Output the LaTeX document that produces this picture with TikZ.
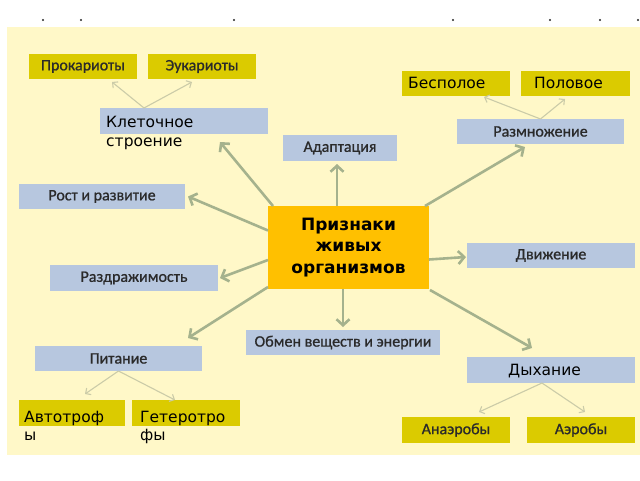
\documentclass[tikz,border=0pt]{standalone}
\usepackage{fontspec}
\setmainfont{Carlito}
\newfontfamily\lbl[FakeBold=0.9]{Carlito}
\newfontfamily\dv{DejaVu Sans}
\usetikzlibrary{arrows.meta,calc}
\definecolor{bgy}{HTML}{FFF8C8}
\definecolor{bluebx}{HTML}{B7C7DF}
\definecolor{yelbx}{HTML}{DBCB00}
\definecolor{orabx}{HTML}{FFC000}
\definecolor{txt}{HTML}{2A2A2A}
\definecolor{bigarr}{HTML}{A5B28D}
\definecolor{thinarr}{HTML}{CBCBA8}
\begin{document}
\begin{tikzpicture}[x=1pt,y=-1pt,
  boxbase/.style={inner sep=0pt, outer sep=0pt, text=txt, font=\lbl\fontsize{16}{18}\selectfont},
  bluebox/.style={boxbase, fill=bluebx},
  yelbox/.style={boxbase, fill=yelbx},
  bigtxt/.style={inner sep=0pt, anchor=base west, text=black, font=\dv\fontsize{15.5}{18}\selectfont},
  bigarrow/.style={draw=bigarr, line width=2.6pt, -{Straight Barb[length=6pt,width=13pt,line width=2.6pt]}},
  thinarrow/.style={draw=thinarr, line width=1.1pt, -{Straight Barb[length=4pt,width=8pt,line width=1.1pt]}}
]
\useasboundingbox (0,0) rectangle (640,480);
\fill[white] (0,0) rectangle (640,480);
\fill[bgy] (7,27) rectangle (640,455);
\foreach \dx in {43,81,234,453,550,600,638}{\fill[black!85] (\dx,20) circle (1.2pt);}

% boxes
\node[yelbox, minimum width=108pt, minimum height=25pt] (prok) at (83,66.5) {Прокариоты};
\node[yelbox, minimum width=108pt, minimum height=25pt] (euk) at (202,66.5) {Эукариоты};
\node[bluebox, minimum width=168pt, minimum height=26pt] (kl) at (184,121) {};
\node[bluebox, minimum width=114pt, minimum height=26pt] (adapt) at (340,148) {Адаптация};
\node[bluebox, minimum width=166pt, minimum height=25pt] (rost) at (102,196.5) {Рост и развитие};
\node[yelbox, minimum width=108pt, minimum height=25pt] (besp) at (456,83.5) {};
\node[yelbox, minimum width=109pt, minimum height=25pt] (polov) at (575.5,83.5) {};
\node[bluebox, minimum width=167pt, minimum height=25pt] (razm) at (540.5,131.5) {Размножение};
\node[boxbase, fill=orabx, minimum width=161pt, minimum height=83pt, align=center,
      text=black, font=\dv\bfseries\fontsize{17}{21.5}\selectfont] (c) at (348.5,247.5)
      {Признаки\\живых\\организмов};
\node[bluebox, minimum width=168pt, minimum height=25pt] (dvizh) at (551,255.5) {Движение};
\node[bluebox, minimum width=168pt, minimum height=26pt] (razdr) at (134,278) {Раздражимость};
\node[bluebox, minimum width=194pt, minimum height=25pt] (obmen) at (343,342.5) {Обмен веществ и энергии};
\node[bluebox, minimum width=167pt, minimum height=25pt] (pit) at (118.5,358.5) {Питание};
\node[bluebox, minimum width=168pt, minimum height=26pt] (dyh) at (551,370) {};
\node[yelbox, minimum width=106pt, minimum height=26pt] (avto) at (72,413) {};
\node[yelbox, minimum width=108pt, minimum height=26pt] (geter) at (186,413) {};
\node[yelbox, minimum width=108pt, minimum height=26pt] (anaer) at (456,430) {Анаэробы};
\node[yelbox, minimum width=108pt, minimum height=26pt] (aer) at (581,430) {Аэробы};

% larger texts
\node[bigtxt] (klt1) at (106,127) {Клеточное};
\node[bigtxt] (klt2) at (106,146.5) {строение};
\node[bigtxt] (bespt) at (408,88.5) {Бесполое};
\node[bigtxt] (polovt) at (534,88.5) {Половое};
\node[bigtxt] (dyht) at (508,375.5) {Дыхание};
\node[bigtxt] (avtot1) at (24,422) {Автотроф};
\node[bigtxt] (avtot2) at (24,440.5) {ы};
\node[bigtxt] (gett1) at (140,422) {Гетеротро};
\node[bigtxt] (gett2) at (140,440.5) {фы};

% thick arrows
\draw[bigarrow] ($(c.north west)+(5,0)$) -- ($(kl.south)+(36,8)$);
\draw[bigarrow] ($(c.west)+(0,-17)$) -- ($(rost.east)+(3,0)$);
\draw[bigarrow] ($(c.west)+(0,12.5)$) -- ($(razdr.east)+(2,0)$);
\draw[bigarrow] ($(c.south west)+(0,-2)$) -- ($(pit.north east)+(-14,-8)$);
\draw[bigarrow] (c.south -| obmen.north) -- ($(obmen.north)+(0,-3)$);
\draw[bigarrow] ($(c.south east)+(1,1)$) -- ($(dyh.north)+(-19,-9)$);
\draw[bigarrow] ($(c.east)+(0,12)$) -- ($(dvizh.west)+(-1,1.5)$);
\draw[bigarrow] ($(c.north east)+(-4,0)$) -- ($(razm.south)+(-15.5,3)$);
\draw[bigarrow] ($(c.north)+(-11.5,0)$) -- ($(adapt.south)+(-3,3)$);

% thin arrows
\draw[thinarrow] ($(kl.north west)+(44,0)$) -- ($(prok.south)+(29,3)$);
\draw[thinarrow] ($(kl.north west)+(44,0)$) -- ($(euk.south)+(-10,3)$);
\draw[thinarrow] (razm.north) -- ($(besp.south)+(28,1)$);
\draw[thinarrow] (razm.north) -- ($(polov.south)+(-10.5,3)$);
\draw[thinarrow] (pit.south) -- ($(avto.north)+(13,-6)$);
\draw[thinarrow] (pit.south) -- ($(geter.north)+(-11,0)$);
\draw[thinarrow] ($(dyh.south)+(-9,0)$) -- ($(anaer.north)+(23,-5)$);
\draw[thinarrow] ($(dyh.south)+(-9,0)$) -- ($(aer.north)+(4,-5)$);
\end{tikzpicture}
\end{document}
